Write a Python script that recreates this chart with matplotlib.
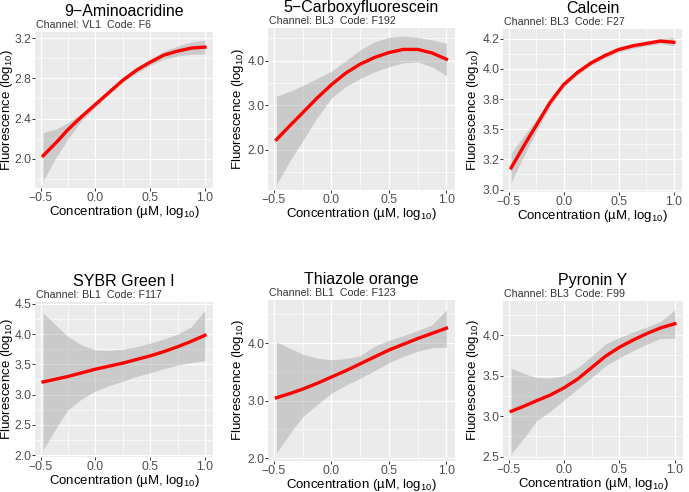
import numpy as np
import matplotlib.pyplot as plt

plt.rcParams['font.family'] = ['Liberation Sans', 'DejaVu Sans']
plt.rcParams['mathtext.fontset'] = 'custom'
plt.rcParams['mathtext.rm'] = 'Liberation Sans'
plt.rcParams['mathtext.it'] = 'Liberation Sans:italic'

# ---- data (log10 scale) ----
conc = [-0.477, -0.35, -0.25, -0.125, 0.0, 0.125, 0.25, 0.375, 0.5, 0.625, 0.75, 0.875, 1.0]

dyes = ['9\u2212Aminoacridine', '5\u2212Carboxyfluorescein', 'Calcein',
        'SYBR Green I', 'Thiazole orange', 'Pyronin Y']
channels = ['VL1', 'BL3', 'BL3', 'BL1', 'BL1', 'BL3']
codes = ['F6', 'F192', 'F27', 'F117', 'F123', 'F99']

fit_amino = [2.03, 2.17, 2.29, 2.42, 2.54, 2.66, 2.78, 2.88, 2.96, 3.03, 3.07, 3.10, 3.11]
lo_amino = [1.78, 2.03, 2.20, 2.38, 2.51, 2.64, 2.76, 2.85, 2.93, 2.99, 3.02, 3.04, 3.04]
hi_amino = [2.26, 2.30, 2.36, 2.45, 2.56, 2.68, 2.80, 2.91, 2.99, 3.07, 3.12, 3.16, 3.18]

fit_carboxy = [2.23, 2.57, 2.83, 3.16, 3.46, 3.72, 3.92, 4.07, 4.18, 4.25, 4.25, 4.17, 4.03]
lo_carboxy = [1.23, 1.80, 2.20, 2.72, 3.16, 3.42, 3.60, 3.75, 3.86, 3.95, 3.97, 3.86, 3.66]
hi_carboxy = [3.20, 3.32, 3.44, 3.60, 3.76, 4.00, 4.24, 4.42, 4.52, 4.55, 4.52, 4.46, 4.39]

fit_calcein = [3.18, 3.38, 3.53, 3.72, 3.87, 3.97, 4.05, 4.11, 4.16, 4.19, 4.21, 4.23, 4.22]
lo_calcein = [3.06, 3.30, 3.48, 3.69, 3.85, 3.95, 4.03, 4.09, 4.14, 4.17, 4.19, 4.21, 4.19]
hi_calcein = [3.30, 3.46, 3.58, 3.75, 3.89, 3.99, 4.07, 4.13, 4.18, 4.21, 4.23, 4.25, 4.26]

fit_sybr = [3.21, 3.26, 3.30, 3.36, 3.42, 3.47, 3.52, 3.58, 3.64, 3.71, 3.79, 3.88, 3.98]
lo_sybr = [2.09, 2.47, 2.75, 2.93, 3.06, 3.15, 3.22, 3.30, 3.36, 3.43, 3.49, 3.53, 3.56]
hi_sybr = [4.35, 4.13, 3.96, 3.82, 3.74, 3.73, 3.75, 3.79, 3.85, 3.92, 4.00, 4.12, 4.39]

fit_thiazole = [3.05, 3.13, 3.20, 3.30, 3.41, 3.52, 3.64, 3.76, 3.88, 3.98, 4.08, 4.17, 4.26]
lo_thiazole = [2.09, 2.46, 2.72, 2.93, 3.13, 3.27, 3.39, 3.52, 3.66, 3.77, 3.86, 3.92, 3.93]
hi_thiazole = [4.02, 3.90, 3.81, 3.74, 3.71, 3.73, 3.78, 3.95, 4.05, 4.13, 4.22, 4.32, 4.58]

fit_pyronin = [3.06, 3.13, 3.19, 3.26, 3.35, 3.46, 3.60, 3.74, 3.85, 3.94, 4.02, 4.09, 4.14]
lo_pyronin = [2.54, 2.75, 2.94, 3.06, 3.20, 3.34, 3.48, 3.62, 3.72, 3.81, 3.89, 3.96, 3.96]
hi_pyronin = [3.59, 3.52, 3.48, 3.47, 3.50, 3.60, 3.74, 3.89, 3.97, 4.04, 4.10, 4.17, 4.31]

fits = [fit_amino, fit_carboxy, fit_calcein, fit_sybr, fit_thiazole, fit_pyronin]
lows = [lo_amino, lo_carboxy, lo_calcein, lo_sybr, lo_thiazole, lo_pyronin]
highs = [hi_amino, hi_carboxy, hi_calcein, hi_sybr, hi_thiazole, hi_pyronin]

# y breaks and their printed labels for each panel
ybreaks = [[2.0, 2.4, 2.8, 3.2],
           [2.0, 3.0, 4.0],
           [3.0, 3.25, 3.5, 3.75, 4.0, 4.25],
           [2.0, 2.5, 3.0, 3.5, 4.0, 4.5],
           [2.0, 3.0, 4.0],
           [2.5, 3.0, 3.5, 4.0]]
ylabels = [['2.0', '2.4', '2.8', '3.2'],
           ['2.0', '3.0', '4.0'],
           ['3.0', '3.2', '3.5', '3.8', '4.0', '4.2'],
           ['2.0', '2.5', '3.0', '3.5', '4.0', '4.5'],
           ['2.0', '3.0', '4.0'],
           ['2.5', '3.0', '3.5', '4.0']]
xbreaks = [-0.5, 0.0, 0.5, 1.0]
xlabels = ['\u22120.5', '0.0', '0.5', '1.0']

# ---- layout (pixels) ----
W, H = 689, 492
# panel: left, top, right, bottom
boxes = [(35, 32, 213, 188), (268, 28, 455, 190), (503, 29, 682, 192),
         (35, 302, 213, 457), (268, 300, 455, 461), (503, 301, 683, 460)]
ylims = [(1.71, 3.26), (1.10, 4.73), (2.98, 4.33),
         (1.97, 4.53), (1.95, 4.75), (2.46, 4.42)]
ylab_x = [15, 246, 481, 15, 246, 481]     # right edge of y title

fig = plt.figure(figsize=(W / 100, H / 100), dpi=100)
fig.patch.set_facecolor('white')

for i in range(6):
    l, t, r, b = boxes[i]
    ax = fig.add_axes([l / W, 1 - b / H, (r - l) / W, (b - t) / H])
    ax.set_facecolor('#EBEBEB')
    for s in ax.spines.values():
        s.set_visible(False)

    ax.set_xlim(-0.551, 1.074)

    ax.set_xticks(xbreaks)
    ax.set_xticklabels(xlabels)
    ax.set_xticks([-0.25, 0.25, 0.75], minor=True)
    yb = ybreaks[i]
    ax.set_yticks(yb)
    ax.set_yticklabels(ylabels[i])
    step = yb[1] - yb[0]
    ymin = [v + step / 2 for v in [yb[0] - step] + yb]
    ax.set_yticks(ymin, minor=True)
    ax.set_ylim(*ylims[i])

    ax.grid(which='major', color='white', lw=0.9)
    ax.grid(which='minor', color='white', lw=0.45)
    ax.set_axisbelow(True)
    ax.tick_params(which='major', length=2.0, width=0.7, color='#333333',
                   labelsize=8.7, labelcolor='#4D4D4D', pad=0.6)
    ax.tick_params(which='minor', length=0)

    ax.fill_between(conc, lows[i], highs[i], color='#999999', alpha=0.4, lw=0)
    ax.plot(conc, fits[i], color='red', lw=2.4, solid_joinstyle='round')

    ax.set_xlabel('Concentration (\u00b5M, log$_{10}$)', fontsize=9.5, labelpad=0.3)
    ax.set_ylabel('Fluorescence (log$_{10}$)', fontsize=9.5)
    ax.yaxis.set_label_coords(ylab_x[i] / W, 1 - (t + b) / 2 / H, transform=fig.transFigure)

    ax.annotate(dyes[i], xy=(0.5, 1), xycoords='axes fraction',
                xytext=(0, 15), textcoords='offset points',
                ha='center', va='center', fontsize=11.5)
    ax.annotate('Channel: %s  Code: %s' % (channels[i], codes[i]), xy=(0, 1),
                xycoords='axes fraction', xytext=(1, 5), textcoords='offset points',
                ha='left', va='center', fontsize=7.7, color='#333333')

fig.savefig('out.png', dpi=100)
